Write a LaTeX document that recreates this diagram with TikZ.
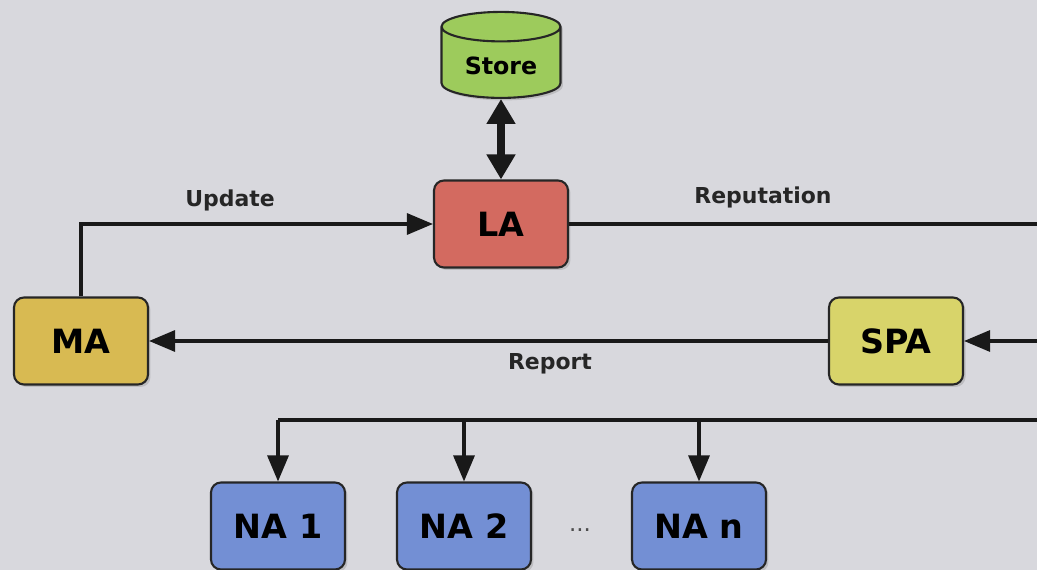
\documentclass[tikz,border=0pt]{standalone}
\usepackage{fontspec}
\setmainfont{DejaVu Sans}
\usetikzlibrary{arrows.meta,shapes.geometric,shadows}

\definecolor{bgcol}{RGB}{216,216,221}
\definecolor{storecol}{RGB}{157,203,92}
\definecolor{lacol}{RGB}{211,106,96}
\definecolor{macol}{RGB}{216,186,82}
\definecolor{spacol}{RGB}{216,212,106}
\definecolor{nacol}{RGB}{115,143,212}

\tikzset{
  agent/.style={draw=black!85, line width=1.2pt, rounded corners=0.2cm,
    minimum width=2.68cm, minimum height=1.74cm,
    font=\fontsize{19}{22}\selectfont\bfseries,
    drop shadow={shadow xshift=0.05cm, shadow yshift=-0.05cm, opacity=0.3}},
  lbl/.style={font=\fontsize{12.5}{15}\selectfont\bfseries, text=black!85},
  wire/.style={line width=1.8pt, draw=black!90},
  flow/.style={wire, -{Triangle[length=0.52cm,width=0.42cm]}},
}

\begin{document}
\begin{tikzpicture}[x=0.02cm,y=-0.02cm]
% background of the slide
\useasboundingbox (0,0) rectangle (1037,570);
\fill[bgcol] (0,0) rectangle (1037,570);

% agents
\node[draw=black!85, line width=1.2pt, cylinder, shape border rotate=90, aspect=0.35,
  minimum height=1.72cm, minimum width=2.38cm, fill=storecol,
  font=\fontsize{13.5}{16}\selectfont\bfseries,
  drop shadow={shadow xshift=0.05cm, shadow yshift=-0.05cm, opacity=0.3}] (store) at (501,66) {Store};
\node[agent, fill=lacol] (la) at (501,224) {LA};
\node[agent, fill=macol] (ma) at (81,341) {MA};
\node[agent, fill=spacol] (spa) at (896,341) {SPA};
\node[agent, fill=nacol] (na1) at (278,526) {NA 1};
\node[agent, fill=nacol] (na2) at (464,526) {NA 2};
\node[agent, fill=nacol] (nan) at (699,526) {NA n};
\node[font=\fontsize{13}{15}\selectfont, text=black!70] (dots) at (580,530) {...};

% loose ends leaving the picture on the right
\coordinate (repout) at (1037,224);
\coordinate (spain) at (1037,341);
\coordinate (busin) at (1037,420);

% connectors
\draw[wire, {Triangle[length=0.5cm,width=0.55cm]}-{Triangle[length=0.5cm,width=0.55cm]}, line width=4pt] (store.bottom) -- (la.north);
\draw[flow] (ma.north) |- (la.west);
\draw[wire] (la.east) -- (repout);
\draw[flow] (spain) -- (spa.east);
\draw[flow] (spa.west) -- (ma.east);
\draw[wire] (busin) -- (na1.north |- busin);
\foreach \n in {na1,na2,nan}
  \draw[flow] (\n.north |- busin) -- (\n.north);

% labels
\node[lbl] (updlbl) at (230,200) {Update};
\node[lbl] (replbl) at (763,197) {Reputation};
\node[lbl] (rptlbl) at (550,364) {Report};
\end{tikzpicture}
\end{document}
